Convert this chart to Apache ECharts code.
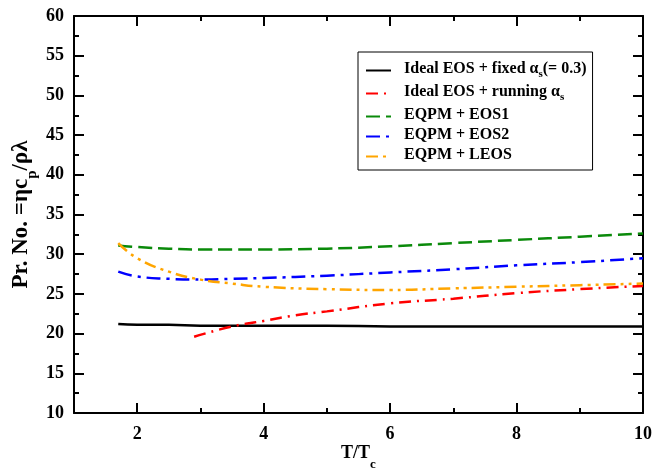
<!DOCTYPE html>
<html>
<head>
<meta charset="utf-8">
<script src="https://cdn.jsdelivr.net/npm/echarts@6/dist/echarts.min.js"></script>
<style>
html, body { margin: 0; padding: 0; background: #fff; }
#chart { width: 654px; height: 470px; }
</style>
</head>
<body>
<div id="chart"></div>
<script>
// T/Tc grid used by most curves
const tGrid = [1.7, 2, 2.5, 3, 3.5, 4, 5, 6, 7, 8, 9, 10];
const fixedAlpha = [21.2, 21.1, 21.1, 21.0, 21.0, 21.0, 21.0, 20.9, 20.9, 20.9, 20.9, 20.9];
const eos1 = [31.1, 30.9, 30.7, 30.6, 30.6, 30.6, 30.7, 31.0, 31.4, 31.8, 32.2, 32.6];
const eos2 = [27.8, 27.2, 26.9, 26.8, 26.9, 27.0, 27.3, 27.7, 28.1, 28.6, 29.0, 29.5];
const leos = [31.4, 29.5, 27.8, 26.8, 26.3, 25.9, 25.6, 25.5, 25.7, 25.9, 26.1, 26.3];
// running coupling curve starts later
const tRunning = [2.9, 3.5, 4, 4.5, 5, 6, 7, 8, 9, 10];
const runningAlpha = [19.6, 20.9, 21.6, 22.3, 22.8, 23.8, 24.4, 25.1, 25.6, 26.0];

const xMajor = [2, 4, 6, 8, 10];
const xMinor = [3, 5, 7, 9];

const seriesNames = ['fixed', 'running', 'eos1', 'eos2', 'leos'];
const legendLabels = [
    '{t|Ideal EOS + fixed α}{s|s}{t|(= 0.3)}',
    '{t|Ideal EOS + running α}{s|s}',
    '{t|EQPM + EOS1}',
    '{t|EQPM + EOS2}',
    '{t|EQPM + LEOS}'
];

const FONT = 'Liberation Serif';

function pairs(xs, ys) {
    return xs.map((x, i) => [x, ys[i]]);
}

const chart = echarts.init(document.getElementById('chart'));

const baseX = { type: 'value', min: 1, max: 10, splitLine: { show: false } };
const baseY = { type: 'value', min: 10, max: 60, interval: 5, splitLine: { show: false } };
const gridBox = { left: 74, right: 11, top: 16, bottom: 57, containLabel: false, outerBoundsMode: 'none' };

function line(name, data, color, dash) {
    return {
        name: name,
        type: 'line',
        data: data,
        smooth: true,
        symbol: 'none',
        lineStyle: { color: color, width: 2.5, type: dash },
        itemStyle: { color: color },
        xAxisIndex: 0,
        yAxisIndex: 0
    };
}

const option = {
    animation: false,
    backgroundColor: '#fff',
    grid: [
        Object.assign({}, gridBox),
        Object.assign({}, gridBox)
    ],
    legend: {
        left: 358,
        top: 52,
        orient: 'vertical',
        data: seriesNames,
        backgroundColor: '#fff',
        borderColor: '#000',
        borderWidth: 1,
        padding: [9, 6, 7, 7],
        itemWidth: 25,
        itemHeight: 14,
        itemGap: 4,
        itemStyle: { opacity: 0 },
        formatter: function (name) {
            return legendLabels[seriesNames.indexOf(name)];
        },
        textStyle: {
            rich: {
                t: { fontFamily: FONT, fontWeight: 'bold', fontSize: 16, color: '#000', lineHeight: 19, verticalAlign: 'top' },
                s: { fontFamily: FONT, fontWeight: 'bold', fontSize: 11, color: '#000', lineHeight: 19, verticalAlign: 'bottom' }
            },
            padding: [0, 0, 0, 8]
        }
    },
    xAxis: [
        Object.assign({}, baseX, {
            gridIndex: 0,
            position: 'bottom',
            name: '{t|T/T}{s|c}',
            nameLocation: 'middle',
            nameGap: 31,
            nameMoveOverlap: false,
            nameTextStyle: {
                rich: {
                    t: { fontFamily: FONT, fontWeight: 'bold', fontSize: 18, color: '#000', lineHeight: 22, verticalAlign: 'top' },
                    s: { fontFamily: FONT, fontWeight: 'bold', fontSize: 13, color: '#000', lineHeight: 27, verticalAlign: 'bottom' }
                }
            },
            axisLine: { lineStyle: { color: '#000', width: 2 } },
            axisTick: { inside: true, length: 10, customValues: xMajor, lineStyle: { color: '#000', width: 2 } },
            axisLabel: { customValues: xMajor, fontFamily: FONT, fontWeight: 'bold', fontSize: 18, color: '#000', margin: 12 }
        }),
        Object.assign({}, baseX, {
            gridIndex: 0,
            position: 'top',
            axisLine: { lineStyle: { color: '#000', width: 2 } },
            axisTick: { inside: true, length: 10, customValues: xMajor, lineStyle: { color: '#000', width: 2 } },
            axisLabel: { show: false }
        }),
        Object.assign({}, baseX, {
            gridIndex: 1,
            position: 'bottom',
            axisLine: { show: false },
            axisTick: { inside: true, length: 5, customValues: xMinor, lineStyle: { color: '#000', width: 2 } },
            axisLabel: { show: false }
        }),
        Object.assign({}, baseX, {
            gridIndex: 1,
            position: 'top',
            axisLine: { show: false },
            axisTick: { inside: true, length: 5, customValues: xMinor, lineStyle: { color: '#000', width: 2 } },
            axisLabel: { show: false }
        })
    ],
    yAxis: [
        Object.assign({}, baseY, {
            gridIndex: 0,
            position: 'left',
            name: '{t|Pr. No. =ηc}{s|p}{t|/ρλ}',
            nameLocation: 'middle',
            nameGap: 34,
            nameMoveOverlap: false,
            nameTextStyle: {
                rich: {
                    t: { fontFamily: FONT, fontWeight: 'bold', fontSize: 23, color: '#000', lineHeight: 24, verticalAlign: 'top' },
                    s: { fontFamily: FONT, fontWeight: 'bold', fontSize: 15, color: '#000', lineHeight: 30, verticalAlign: 'bottom' }
                }
            },
            axisLine: { lineStyle: { color: '#000', width: 2 } },
            axisTick: { inside: true, length: 10, lineStyle: { color: '#000', width: 2 } },
            minorTick: { show: true, splitNumber: 2, length: 5, lineStyle: { color: '#000', width: 2 } },
            axisLabel: { fontFamily: FONT, fontWeight: 'bold', fontSize: 18, color: '#000', margin: 10 }
        }),
        Object.assign({}, baseY, {
            gridIndex: 0,
            position: 'right',
            axisLine: { lineStyle: { color: '#000', width: 2 } },
            axisTick: { inside: true, length: 10, lineStyle: { color: '#000', width: 2 } },
            minorTick: { show: true, splitNumber: 2, length: 5, lineStyle: { color: '#000', width: 2 } },
            axisLabel: { show: false }
        }),
        Object.assign({}, baseY, {
            gridIndex: 1,
            show: false
        })
    ],
    series: [
        line('fixed', pairs(tGrid, fixedAlpha), '#000000', 'solid'),
        line('running', pairs(tRunning, runningAlpha), '#ff0000', [12, 6, 2, 6]),
        line('eos1', pairs(tGrid, eos1), '#0a8a0a', [14, 6]),
        line('eos2', pairs(tGrid, eos2), '#0000ff', [14, 6, 3, 6]),
        line('leos', pairs(tGrid, leos), '#ffa500', [12, 5, 3, 5, 3, 5])
    ]
};

chart.setOption(option);
</script>
</body>
</html>
